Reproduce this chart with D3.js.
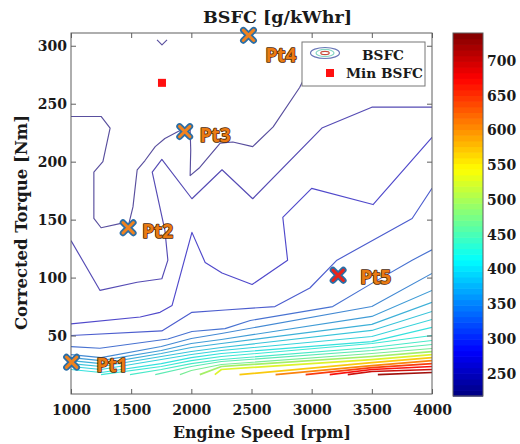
<!DOCTYPE html>
<html>
<head>
<meta charset="utf-8">
<script src="https://cdn.jsdelivr.net/npm/d3@7/dist/d3.min.js"></script>
<style>
  html, body { margin: 0; padding: 0; background: #fff; }
  svg { display: block; }
</style>
</head>
<body>
<svg id="chart" width="520" height="444"></svg>
<script>
// ---------------- DATA ----------------
const rpmTicks = [1000, 1500, 2000, 2500, 3000, 3500, 4000];
const torqueTicks = [50, 100, 150, 200, 250, 300];
const colorbarTicks = [250, 300, 350, 400, 450, 500, 550, 600, 650, 700];
const colorbarRange = [218, 740];

// contour lines: [engine speed rpm, corrected torque Nm]
const bsfc245 = [[1000,239],[1250,239],[1325,229],[1265,200],[1190,191],[1190,151],[1250,143],[1425,147],[1475,144],[1515,161],[1550,193],[1615,201],[1700,213],[1780,220],[1890,226],[1965,229],[1990,228],[1995,210],[1990,188],[2070,195],[2240,216],[2345,217],[2510,213],[2680,230],[2900,264],[3000,285]];
const bsfc245top = [[1715,305],[1756,300.7],[1798,305]];
const bsfc265 = [[1000,132],[1240,89],[1550,96],[1755,99],[1805,115],[1780,141],[1675,191],[1755,202],[2005,168],[2255,193],[2510,168],[3085,229],[3500,247],[4000,247]];
const bsfc285 = [[1000,60],[1575,66],[1740,70],[1840,76],[2005,139],[2115,113],[2255,104],[2505,94],[2800,115],[2760,152],[3000,177],[3510,163],[4000,221]];
const bsfc305 = [[1000,50],[1755,54],[2005,70],[2280,72],[2695,75],[2985,91],[3210,115],[3835,151],[4000,177]];
const bsfc325 = [[1000,40.5],[1240,39],[1805,47],[2005,53.5],[2280,56],[2490,63],[3175,75],[3500,95],[3835,115],[4000,124]];
const bsfc345 = [[1000,33.6],[1250,31],[1750,40.5],[2000,47.4],[2250,51.8],[3500,75.1],[4000,103.6]];
const bsfc360 = [[1000,31],[1250,28.4],[1750,37.1],[2000,43.1],[2250,46.6],[3500,66.5],[4000,88.9]];
const bsfc375 = [[1000,28.4],[1250,25.8],[1750,34.5],[2000,39.7],[2250,43.1],[3500,59.6],[4000,78.6]];
const bsfc390 = [[1000,25.8],[1250,23.3],[1750,31.9],[2000,36.2],[2250,39.7],[3500,54.4],[4000,70.8]];
const bsfc400 = [[1000,23.3],[1250,20.7],[1750,29.3],[2000,33.6],[2250,37.1],[3500,49.2],[4000,63.9]];
const bsfc410 = [[1000,20.7],[1250,18.1],[1750,25.8],[2000,31],[2250,34.5],[3500,44.8],[4000,57]];
const bsfc420 = [[1250,16.3],[1750,23.3],[2000,28.4],[2250,31.9],[3500,43.1],[4000,50]];
const bsfc430 = [[1490,16.3],[1750,20.7],[2000,25.8],[2250,29.3],[3500,39.7],[4000,45.7]];
const bsfc445 = [[1700,16.3],[2000,23.3],[2250,27.6],[3500,37.1],[4000,42.3]];
const bsfc465 = [[1905,16.3],[2000,19.8],[2250,25],[3500,34.5],[4000,38.8]];
const bsfc495 = [[2070,16.3],[2250,23.3],[3500,31.9],[4000,36.2]];
const bsfc530 = [[2195,16.3],[2250,20.7],[3500,29.3],[4000,33.6]];
const bsfc570 = [[2400,16.3],[3500,26.7],[4000,31]];
const bsfc610 = [[2700,16.3],[3500,24.1],[4000,28.4]];
const bsfc650 = [[2950,16.3],[3500,22.4],[4000,25.8]];
const bsfc675 = [[3150,16.3],[3500,20.7],[4000,23.3]];
const bsfc700 = [[3300,16.3],[3500,19],[4000,20.7]];
const bsfc725 = [[3550,16.3],[4000,18.1]];

const contourLevels = [245, 245, 265, 285, 305, 325, 345, 360, 375, 390, 400, 410, 420, 430, 445, 465, 495, 530, 570, 610, 650, 675, 700, 725];
const contourLines = [bsfc245, bsfc245top, bsfc265, bsfc285, bsfc305, bsfc325, bsfc345, bsfc360, bsfc375, bsfc390, bsfc400, bsfc410, bsfc420, bsfc430, bsfc445, bsfc465, bsfc495, bsfc530, bsfc570, bsfc610, bsfc650, bsfc675, bsfc700, bsfc725];

const minBsfcRpm = 1756;
const minBsfcNm = 268;

const pointNames = ["Pt1", "Pt2", "Pt3", "Pt4", "Pt5"];
const pointRpm = [1005, 1475, 1945, 2475, 3220];
const pointNm = [27, 143, 226, 309, 102];

// ---------------- LAYOUT ----------------
const svg = d3.select("#chart");
const plot = { left: 71, right: 432, top: 33, bottom: 394 };
const x = d3.scaleLinear().domain([1000, 4000]).range([plot.left, plot.right]);
const y = d3.scaleLinear().domain([0, 311]).range([393.5, plot.top]);
const serif = "'DejaVu Serif', serif";
const axisColor = "#5f5f5f";

function jetRGB(t) {
  t = Math.max(0, Math.min(1, t));
  const c = v => 255 * Math.max(0, Math.min(1, v));
  return [c(1.5 - Math.abs(4 * t - 3)), c(1.5 - Math.abs(4 * t - 2)), c(1.5 - Math.abs(4 * t - 1))];
}
const jet = t => { const [r, g, b] = jetRGB(t); return d3.rgb(r, g, b).toString(); };
// thin rendered contour lines look softer/purpler than the pure colormap
function lineColor(t) {
  const [r, g, b] = jetRGB(t);
  const w = Math.max(0.1, 0.5 - 0.6 * t);
  const m = [190, 168, 132];
  return d3.rgb(r + (m[0] - r) * w, g + (m[1] - g) * w, b + (m[2] - b) * w).toString();
}
const colorT = v => (v - colorbarRange[0]) / (colorbarRange[1] - colorbarRange[0]);

svg.append("defs").append("clipPath").attr("id", "plotclip")
  .append("rect").attr("x", plot.left).attr("y", plot.top)
  .attr("width", plot.right - plot.left).attr("height", plot.bottom - plot.top);

// contours
const line = d3.line().x(d => x(d[0])).y(d => y(d[1]));
const cg = svg.append("g").attr("clip-path", "url(#plotclip)");
contourLines.forEach((pts, i) => {
  const t = colorT(contourLevels[i]);
  cg.append("path").attr("d", line(pts))
    .attr("fill", "none")
    .attr("stroke", lineColor(t))
    .attr("stroke-width", t > 0.5 ? 1.7 : 1.15)
    .attr("stroke-linejoin", "round");
});

// min BSFC marker
svg.append("rect")
  .attr("x", x(minBsfcRpm) - 4).attr("y", y(minBsfcNm) - 4)
  .attr("width", 8).attr("height", 8).attr("fill", "#ff1010");

// frame & axes
svg.append("rect").attr("x", plot.left).attr("y", plot.top)
  .attr("width", plot.right - plot.left).attr("height", plot.bottom - plot.top)
  .attr("fill", "none").attr("stroke", axisColor).attr("stroke-width", 1);

function styleAxis(g, withText) {
  g.select(".domain").remove();
  g.selectAll(".tick line").attr("stroke", axisColor);
  if (!withText) g.selectAll(".tick text").remove();
  else g.selectAll(".tick text").attr("fill", "#1a1a1a")
    .attr("font-family", serif).attr("font-weight", "bold").attr("font-size", 14);
}
svg.append("g").attr("transform", `translate(0,${plot.bottom})`)
  .call(d3.axisBottom(x).tickValues(rpmTicks).tickSize(-5).tickPadding(11).tickFormat(d3.format("d")))
  .call(g => styleAxis(g, true));
svg.append("g").attr("transform", `translate(0,${plot.top})`)
  .call(d3.axisTop(x).tickValues(rpmTicks).tickSize(-5))
  .call(g => styleAxis(g, false));
svg.append("g").attr("transform", `translate(${plot.left},0)`)
  .call(d3.axisLeft(y).tickValues(torqueTicks).tickSize(-5).tickPadding(4).tickFormat(d3.format("d")))
  .call(g => styleAxis(g, true));
svg.append("g").attr("transform", `translate(${plot.right},0)`)
  .call(d3.axisRight(y).tickValues(torqueTicks).tickSize(-5))
  .call(g => styleAxis(g, false));

// titles
svg.append("text").text("BSFC [g/kWhr]")
  .attr("x", 203).attr("y", 23).attr("textLength", 149).attr("lengthAdjust", "spacingAndGlyphs")
  .attr("font-family", serif).attr("font-weight", "bold").attr("font-size", 16).attr("fill", "#1a1a1a");
svg.append("text").text("Engine Speed [rpm]")
  .attr("x", 173).attr("y", 438).attr("textLength", 178).attr("lengthAdjust", "spacingAndGlyphs")
  .attr("font-family", serif).attr("font-weight", "bold").attr("font-size", 16).attr("fill", "#1a1a1a");
svg.append("text").text("Corrected Torque [Nm]")
  .attr("transform", "translate(27,330) rotate(-90)")
  .attr("textLength", 215).attr("lengthAdjust", "spacingAndGlyphs")
  .attr("font-family", serif).attr("font-weight", "bold").attr("font-size", 16).attr("fill", "#1a1a1a");

// legend
const lg = svg.append("g");
lg.append("rect").attr("x", 302).attr("y", 42).attr("width", 123).attr("height", 44)
  .attr("fill", "#fff").attr("stroke", "#777").attr("stroke-width", 1);
lg.append("ellipse").attr("cx", 325).attr("cy", 53).attr("rx", 14.5).attr("ry", 5.5)
  .attr("fill", "none").attr("stroke", "#6a78b8").attr("stroke-width", 1.2);
lg.append("ellipse").attr("cx", 325).attr("cy", 53).attr("rx", 9).attr("ry", 3.6)
  .attr("fill", "none").attr("stroke", "#86d6c4").attr("stroke-width", 1.2);
lg.append("ellipse").attr("cx", 325).attr("cy", 53).attr("rx", 4.2).attr("ry", 1.6)
  .attr("fill", "none").attr("stroke", "#c84a3a").attr("stroke-width", 1.2);
lg.append("text").text("BSFC").attr("x", 362).attr("y", 59.5)
  .attr("textLength", 42).attr("lengthAdjust", "spacingAndGlyphs")
  .attr("font-family", serif).attr("font-weight", "bold").attr("font-size", 13).attr("fill", "#1a1a1a");
lg.append("rect").attr("x", 326).attr("y", 69).attr("width", 8).attr("height", 8).attr("fill", "#ff1010");
lg.append("text").text("Min BSFC").attr("x", 346).attr("y", 77.5)
  .attr("textLength", 77).attr("lengthAdjust", "spacingAndGlyphs")
  .attr("font-family", serif).attr("font-weight", "bold").attr("font-size", 13).attr("fill", "#1a1a1a");

// operating points
const labelOffsets = [[25, 10], [14, 10], [15, 10], [17, 27], [22, 9]];
pointNames.forEach((name, i) => {
  const px = x(pointRpm[i]), py = y(pointNm[i]);
  const s = 5.2;
  const xPath = `M${px - s},${py - s}L${px + s},${py + s}M${px - s},${py + s}L${px + s},${py - s}`;
  svg.append("path").attr("d", xPath).attr("stroke", "#2b6ea6").attr("stroke-width", 6.5).attr("stroke-linecap", "round").attr("fill", "none");
  svg.append("path").attr("d", xPath).attr("stroke", i === 4 ? "#e8241c" : "#f0821e").attr("stroke-width", 3).attr("stroke-linecap", "round").attr("fill", "none");
  svg.append("text").text(name)
    .attr("x", px + labelOffsets[i][0]).attr("y", py + labelOffsets[i][1])
    .attr("font-family", "'Noto Sans', sans-serif").attr("font-weight", "bold").attr("font-size", 19)
    .attr("fill", "#ea7a12").attr("stroke", "#4a2808").attr("stroke-width", 1.6)
    .attr("paint-order", "stroke").attr("stroke-linejoin", "round");
});

// colorbar
const cb = { left: 453, width: 30, top: 33, bottom: 396 };
const cy = d3.scaleLinear().domain(colorbarRange).range([cb.bottom, cb.top]);
const nBands = 64;
const bands = d3.range(nBands);
svg.append("g").selectAll("rect").data(bands).join("rect")
  .attr("x", cb.left)
  .attr("y", k => cy(colorbarRange[0] + (k + 1) * (colorbarRange[1] - colorbarRange[0]) / nBands))
  .attr("width", cb.width)
  .attr("height", (cb.bottom - cb.top) / nBands + 0.6)
  .attr("fill", k => jet((k + 0.5) / nBands));
svg.append("rect").attr("x", cb.left).attr("y", cb.top).attr("width", cb.width).attr("height", cb.bottom - cb.top)
  .attr("fill", "none").attr("stroke", axisColor).attr("stroke-width", 1);
svg.append("g").attr("transform", `translate(${cb.left + cb.width},0)`)
  .call(d3.axisRight(cy).tickValues(colorbarTicks).tickSize(0).tickPadding(4).tickFormat(d3.format("d")))
  .call(g => styleAxis(g, true));
</script>
</body>
</html>
